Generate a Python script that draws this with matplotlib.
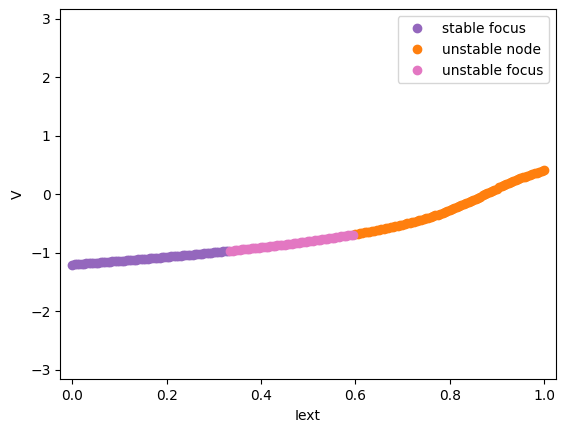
import matplotlib
matplotlib.use("Agg")
import matplotlib.pyplot as plt

# equilibrium branch V(Iext), split by stability type
stable_focus_I = [0.000, 0.005, 0.010, 0.015, 0.020, 0.025, 0.030, 0.035, 0.040, 0.045,
                  0.050, 0.055, 0.060, 0.065, 0.070, 0.075, 0.080, 0.085, 0.090, 0.095,
                  0.100, 0.105, 0.110, 0.115, 0.120, 0.125, 0.130, 0.135, 0.140, 0.145,
                  0.150, 0.155, 0.160, 0.165, 0.170, 0.175, 0.180, 0.185, 0.190, 0.195,
                  0.200, 0.205, 0.210, 0.215, 0.220, 0.225, 0.230, 0.235, 0.240, 0.245,
                  0.250, 0.255, 0.260, 0.265, 0.270, 0.275, 0.280, 0.285, 0.290, 0.295,
                  0.300, 0.305, 0.310, 0.315, 0.320, 0.325, 0.330]
stable_focus_V = [-1.1994, -1.1965, -1.1935, -1.1905, -1.1875, -1.1845, -1.1814, -1.1784, -1.1753, -1.1723,
                  -1.1692, -1.1661, -1.1630, -1.1599, -1.1567, -1.1536, -1.1504, -1.1472, -1.1440, -1.1408,
                  -1.1375, -1.1343, -1.1310, -1.1277, -1.1244, -1.1211, -1.1178, -1.1145, -1.1111, -1.1077,
                  -1.1043, -1.1009, -1.0974, -1.0940, -1.0905, -1.0870, -1.0835, -1.0800, -1.0765, -1.0730,
                  -1.0694, -1.0658, -1.0622, -1.0586, -1.0549, -1.0512, -1.0475, -1.0438, -1.0400, -1.0363,
                  -1.0325, -1.0287, -1.0248, -1.0209, -1.0170, -1.0131, -1.0092, -1.0053, -1.0013, -0.9973,
                  -0.9933, -0.9893, -0.9852, -0.9811, -0.9770, -0.9728, -0.9686]

unstable_focus_I = [0.335, 0.340, 0.345, 0.350, 0.355, 0.360, 0.365, 0.370, 0.375, 0.380,
                    0.385, 0.390, 0.395, 0.400, 0.405, 0.410, 0.415, 0.420, 0.425, 0.430,
                    0.435, 0.440, 0.445, 0.450, 0.455, 0.460, 0.465, 0.470, 0.475, 0.480,
                    0.485, 0.490, 0.495, 0.500, 0.505, 0.510, 0.515, 0.520, 0.525, 0.530,
                    0.535, 0.540, 0.545, 0.550, 0.555, 0.560, 0.565, 0.570, 0.575, 0.580,
                    0.585, 0.590, 0.595]
unstable_focus_V = [-0.9644, -0.9601, -0.9558, -0.9515, -0.9472, -0.9428, -0.9384, -0.9339, -0.9294, -0.9249,
                    -0.9204, -0.9158, -0.9112, -0.9066, -0.9019, -0.8972, -0.8924, -0.8876, -0.8828, -0.8779,
                    -0.8730, -0.8680, -0.8630, -0.8580, -0.8529, -0.8477, -0.8425, -0.8372, -0.8319, -0.8266,
                    -0.8212, -0.8158, -0.8104, -0.8049, -0.7993, -0.7936, -0.7879, -0.7821, -0.7762, -0.7703,
                    -0.7643, -0.7583, -0.7522, -0.7461, -0.7399, -0.7336, -0.7272, -0.7207, -0.7141, -0.7075,
                    -0.7008, -0.6940, -0.6872]

unstable_node_I = [0.600, 0.605, 0.610, 0.615, 0.620, 0.625, 0.630, 0.635, 0.640, 0.645,
                   0.650, 0.655, 0.660, 0.665, 0.670, 0.675, 0.680, 0.685, 0.690, 0.695,
                   0.700, 0.705, 0.710, 0.715, 0.720, 0.725, 0.730, 0.735, 0.740, 0.745,
                   0.750, 0.755, 0.760, 0.765, 0.770, 0.775, 0.780, 0.785, 0.790, 0.795,
                   0.800, 0.805, 0.810, 0.815, 0.820, 0.825, 0.830, 0.835, 0.840, 0.845,
                   0.850, 0.855, 0.860, 0.865, 0.870, 0.875, 0.880, 0.885, 0.890, 0.895,
                   0.900, 0.905, 0.910, 0.915, 0.920, 0.925, 0.930, 0.935, 0.940, 0.945,
                   0.950, 0.955, 0.960, 0.965, 0.970, 0.975, 0.980, 0.985, 0.990, 0.995, 1.000]
unstable_node_V = [-0.6803, -0.6733, -0.6661, -0.6589, -0.6515, -0.6441, -0.6365, -0.6288, -0.6210, -0.6131,
                   -0.6050, -0.5968, -0.5884, -0.5800, -0.5714, -0.5626, -0.5537, -0.5447, -0.5354, -0.5260,
                   -0.5164, -0.5067, -0.4967, -0.4866, -0.4762, -0.4656, -0.4548, -0.4437, -0.4324, -0.4208,
                   -0.4090, -0.3969, -0.3845, -0.3717, -0.3587, -0.3453, -0.3316, -0.3175, -0.3031, -0.2883,
                   -0.2731, -0.2575, -0.2415, -0.2250, -0.2082, -0.1909, -0.1733, -0.1552, -0.1368, -0.1180,
                   -0.0989, -0.0795, -0.0599, -0.0401, -0.0201, 0.0000, 0.0201, 0.0401, 0.0599, 0.0795,
                   0.0989, 0.1180, 0.1368, 0.1552, 0.1733, 0.1909, 0.2082, 0.2250, 0.2415, 0.2575,
                   0.2731, 0.2883, 0.3031, 0.3175, 0.3316, 0.3453, 0.3587, 0.3717, 0.3845, 0.3969, 0.4090]

fig = plt.figure(figsize=(5.65, 4.32), dpi=100)
ax = fig.add_axes([0.1067, 0.122, 0.8773, 0.8565])

ax.plot(stable_focus_I, stable_focus_V, "o", color="tab:purple", markersize=6, label="stable focus")
ax.plot(unstable_node_I, unstable_node_V, "o", color="tab:orange", markersize=6, label="unstable node")
ax.plot(unstable_focus_I, unstable_focus_V, "o", color="tab:pink", markersize=6, label="unstable focus")

ax.set_xlim(-0.0254, 1.0254)
ax.set_ylim(-3.16, 3.16)
ax.set_xlabel("Iext")
ax.set_ylabel("V")
ax.legend(loc="upper right")

fig.savefig("out.png", dpi=100)
